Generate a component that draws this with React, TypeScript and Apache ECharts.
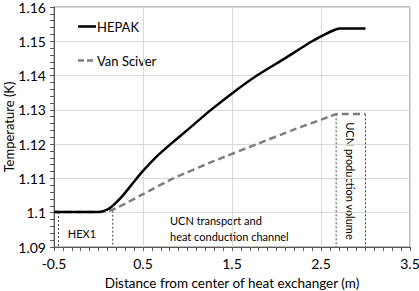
import React, { useEffect, useRef } from "react";
import * as echarts from "echarts";

const hepakX = [-0.5, 0.0, 0.07, 0.14, 0.2, 0.28, 0.41, 0.5, 0.65, 0.81, 1.02, 1.25, 1.5, 1.78, 2.08, 2.4, 2.55, 2.65, 2.72, 3.0];
const hepakY = [1.1002, 1.1002, 1.1006, 1.1016, 1.103, 1.1052, 1.1094, 1.1122, 1.1163, 1.12, 1.1246, 1.1297, 1.1348, 1.14, 1.1448, 1.15, 1.1521, 1.1533, 1.1537, 1.1537];

const vanX = [-0.5, 0.0, 0.08, 0.15, 0.22, 0.5, 0.84, 1.3, 1.78, 2.2, 2.5, 2.6, 2.68, 3.0];
const vanY = [1.1002, 1.1002, 1.1004, 1.1008, 1.1016, 1.1054, 1.11, 1.1151, 1.12, 1.1243, 1.1271, 1.1281, 1.1288, 1.1288];

// dotted region boundaries: x and top y
const boundaryX = [-0.45, 0.16, 2.67, 3.0];
const boundaryTop = [1.1002, 1.1006, 1.1287, 1.1287];

const legendNames = ["HEPAK", "Van Sciver"];

const yMin = 1.09;
const yMax = 1.16;
const xMin = -0.5;
const xMax = 3.5;

const FONT = "Lato";

export default function App() {
  const ref = useRef<HTMLDivElement>(null);
  useEffect(() => {
    if (!ref.current) return;
    const chart = echarts.init(ref.current, null, { renderer: "svg" });
    const boundarySeries = boundaryX.map((x, i) => ({
      type: "line",
      name: "b" + i,
      data: [
        [x, boundaryTop[i]],
        [x, yMin],
      ],
      symbol: "none",
      lineStyle: { color: "#404040", width: 1, type: [2, 2] },
      silent: true,
      z: 1,
    }));
    const fmt = (v: number) => String(parseFloat(v.toFixed(2)));
    chart.setOption({
      animation: false,
      textStyle: { fontFamily: FONT },
      grid: {
        left: 54,
        right: 9,
        top: 7,
        bottom: 44,
        show: true,
        borderColor: "#7f7f7f",
        borderWidth: 1,
        outerBoundsMode: "none",
        containLabel: false,
      },
      xAxis: {
        type: "value",
        min: xMin,
        max: xMax,
        interval: 1,
        name: "Distance from center of heat exchanger (m)",
        nameLocation: "middle",
        nameGap: 29,
        nameMoveOverlap: false,
        nameTextStyle: { fontFamily: FONT, fontSize: 13.5, color: "#000" },
        axisLine: { show: true, onZero: false, lineStyle: { color: "#595959", width: 1 } },
        axisTick: { show: true, length: 4, lineStyle: { color: "#595959" } },
        minorTick: { show: true, splitNumber: 10, length: 4, lineStyle: { color: "#595959" } },
        axisLabel: { fontFamily: FONT, fontSize: 14, color: "#000", margin: 9, formatter: fmt },
        splitLine: { show: true, lineStyle: { color: "#d9d9d9", width: 1 } },
      },
      yAxis: {
        type: "value",
        min: yMin,
        max: yMax,
        interval: 0.01,
        name: "Temperature (K)",
        nameLocation: "middle",
        nameGap: 38,
        nameMoveOverlap: false,
        nameTextStyle: { fontFamily: FONT, fontSize: 13, lineHeight: 14, color: "#000" },
        axisLine: { show: true, onZero: false, lineStyle: { color: "#595959", width: 1 } },
        axisTick: { show: true, length: 4, lineStyle: { color: "#595959" } },
        minorTick: { show: true, splitNumber: 5, length: 4, lineStyle: { color: "#595959" } },
        axisLabel: { fontFamily: FONT, fontSize: 14, color: "#000", margin: 8, formatter: fmt },
        splitLine: { show: true, lineStyle: { color: "#d9d9d9", width: 1 } },
      },
      graphic: [
        {
          type: "line",
          shape: { x1: 78, y1: 26.5, x2: 96, y2: 26.5 },
          style: { stroke: "#000", lineWidth: 2.5 },
        },
        {
          type: "text",
          x: 97,
          y: 27,
          style: { text: legendNames[0], font: `13px ${FONT}`, fill: "#000", verticalAlign: "middle" },
        },
        {
          type: "line",
          shape: { x1: 78, y1: 60.5, x2: 96, y2: 60.5 },
          style: { stroke: "#7f7f7f", lineWidth: 2.5, lineDash: [6, 3] },
        },
        {
          type: "text",
          x: 97,
          y: 61,
          style: { text: legendNames[1], font: `13px ${FONT}`, fill: "#000", verticalAlign: "middle" },
        },
        {
          type: "text",
          x: 82,
          y: 233,
          style: { text: "HEX1", font: `11px ${FONT}`, fill: "#000", align: "center", verticalAlign: "middle" },
        },
        {
          type: "text",
          x: 170,
          y: 213,
          style: {
            text: "UCN transport and\nheat conduction channel",
            font: `11px ${FONT}`,
            lineHeight: 15.5,
            fill: "#000",
          },
        },
        {
          type: "text",
          x: 350,
          y: 181,
          rotation: -Math.PI / 2,
          style: {
            text: "UCN production volume",
            font: `11px ${FONT}`,
            fill: "#000",
            align: "center",
            verticalAlign: "middle",
          },
        },
      ],
      series: [
        ...boundarySeries,
        {
          type: "line",
          name: "Van Sciver",
          data: vanX.map((x, i) => [x, vanY[i]]),
          symbol: "none",
          smooth: 0.2,
          lineStyle: { color: "#7f7f7f", width: 2.5, type: [7, 4] },
          itemStyle: { color: "#7f7f7f" },
          z: 3,
        },
        {
          type: "line",
          name: "HEPAK",
          data: hepakX.map((x, i) => [x, hepakY[i]]),
          symbol: "none",
          smooth: 0.2,
          lineStyle: { color: "#000", width: 2.5 },
          itemStyle: { color: "#000" },
          z: 4,
        },
      ],
    });
    return () => chart.dispose();
  }, []);
  return (
    <div
      ref={ref}
      style={{ position: "fixed", left: 0, top: 0, width: 419, height: 291, background: "#fff" }}
    />
  );
}
